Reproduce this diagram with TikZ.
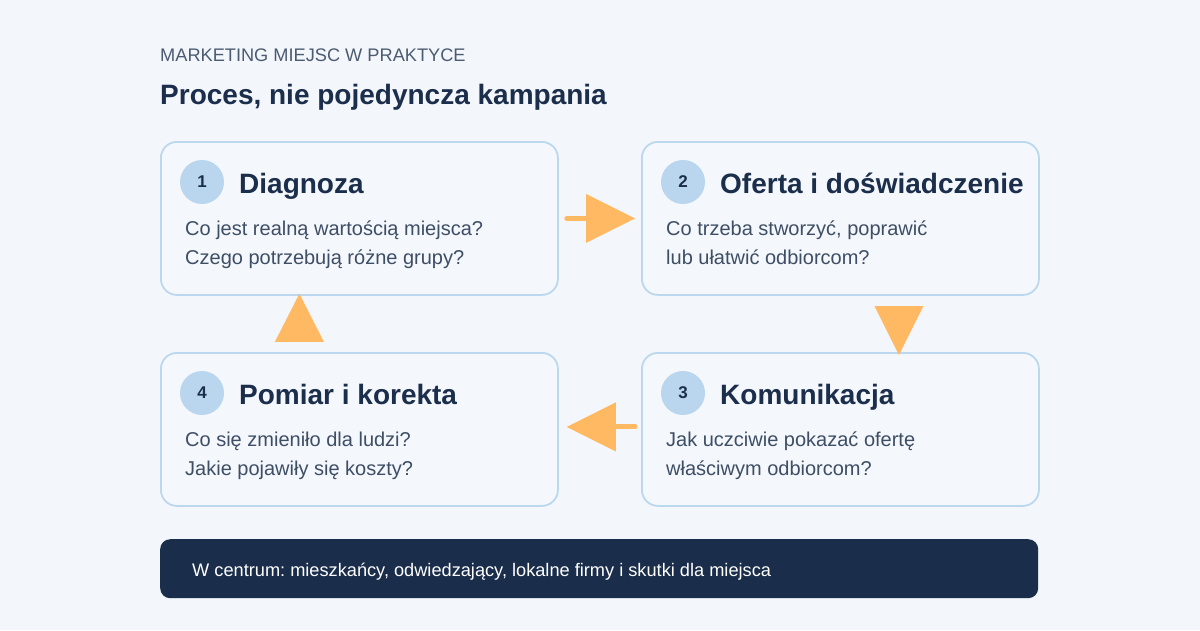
\documentclass[tikz,border=0pt]{standalone}
\usepackage{fontspec}
\setmainfont{Liberation Sans}
\frenchspacing
\definecolor{bgc}{HTML}{F3F6FA}
\definecolor{cardfill}{HTML}{F4F7FB}
\definecolor{cardline}{HTML}{BCD8EE}
\definecolor{circfill}{HTML}{B9D6EE}
\definecolor{navy}{HTML}{1B2E4B}
\definecolor{bodyc}{HTML}{3D4E65}
\definecolor{headc}{HTML}{4B5B72}
\definecolor{orng}{HTML}{FFB963}
\definecolor{barc}{HTML}{1A2D4A}
\tikzset{
  card/.style={draw=cardline, line width=1.8pt, fill=cardfill, rounded corners=16pt,
    minimum width=397pt, minimum height=153pt, anchor=north west, inner sep=0pt},
  numc/.style={circle, fill=circfill, minimum size=44pt, inner sep=0pt, text=navy,
    font=\fontsize{17}{20}\selectfont\bfseries},
  ctitle/.style={anchor=base west, inner sep=0pt, text=navy, font=\fontsize{28}{34}\selectfont\bfseries},
  cbody/.style={anchor=base west, inner sep=0pt, text=bodyc, font=\fontsize{20}{24}\selectfont},
  stemline/.style={draw=orng, line width=5pt, line cap=round},
  tri/.style={fill=orng},
}
\newcommand\stepcard[7]{%
  \node[card] (b#3) at (#1,#2) {};
  \begin{scope}[shift={(#1,#2)}]
    \node[numc] (n#3) at (42,41) {#4};
    \node[ctitle] (t#3) at (79,52) {#5};
    \node[cbody] (p#3) at (25,94) {#6};
    \node[cbody] (q#3) at (25,123) {#7};
  \end{scope}}
\begin{document}
\begin{tikzpicture}[x=1pt,y=-1pt]
\useasboundingbox (0,0) rectangle (1200,630);
\fill[bgc] (0,0) rectangle (1200,630);
\node[anchor=base west, inner sep=0pt, text=headc, font=\fontsize{18.2}{22}\selectfont] (kicker) at (160,61) {MARKETING MIEJSC W PRAKTYCE};
\node[anchor=base west, inner sep=0pt, text=navy, font=\fontsize{28}{34}\selectfont\bfseries] (title) at (160,104) {Proces, nie pojedyncza kampania};
\stepcard{160}{141}{1}{1}{Diagnoza}{Co jest realną wartością miejsca?}{Czego potrzebują różne grupy?}
\stepcard{641}{141}{2}{2}{Oferta i doświadczenie}{Co trzeba stworzyć, poprawić}{lub ułatwić odbiorcom?}
\stepcard{641}{352}{3}{3}{Komunikacja}{Jak uczciwie pokazać ofertę}{właściwym odbiorcom?}
\stepcard{160}{352}{4}{4}{Pomiar i korekta}{Co się zmieniło dla ludzi?}{Jakie pojawiły się koszty?}
% arrow 1 -> 2
\coordinate (a12s) at ([xshift=8pt]b1.east);
\coordinate (a12t) at ([xshift=-6pt]b2.west);
\draw[stemline] (a12s) -- ([xshift=-45pt]a12t);
\fill[tri] (a12t) -- ++(-49,-24.5) -- ++(0,49) -- cycle;
% arrow 2 -> 3
\coordinate (a23t) at ([xshift=58.5pt,yshift=-3pt]b3.north);
\fill[tri] (a23t) -- ++(-24.5,-49) -- ++(49,0) -- cycle;
% arrow 3 -> 4
\coordinate (a34s) at ([xshift=-6pt,yshift=2.5pt]b3.west);
\coordinate (a34t) at ([xshift=8pt,yshift=2.5pt]b4.east);
\draw[stemline] (a34s) -- ([xshift=45pt]a34t);
\fill[tri] (a34t) -- ++(49,-24.5) -- ++(0,49) -- cycle;
% arrow 4 -> 1
\coordinate (a41t) at ([xshift=-60pt,yshift=2pt]b1.south);
\fill[tri] (a41t) -- ++(-24.5,48) -- ++(49,0) -- cycle;
% bottom bar
\node[fill=barc, rounded corners=10pt, minimum width=878pt, minimum height=59pt, anchor=north west, inner sep=0pt] (bar) at (160,539) {};
\node[anchor=base west, inner sep=0pt, text=white, font=\fontsize{18.2}{22}\selectfont] (bartext) at (192,576) {W centrum: mieszkańcy, odwiedzający, lokalne firmy i skutki dla miejsca};
\end{tikzpicture}
\end{document}
